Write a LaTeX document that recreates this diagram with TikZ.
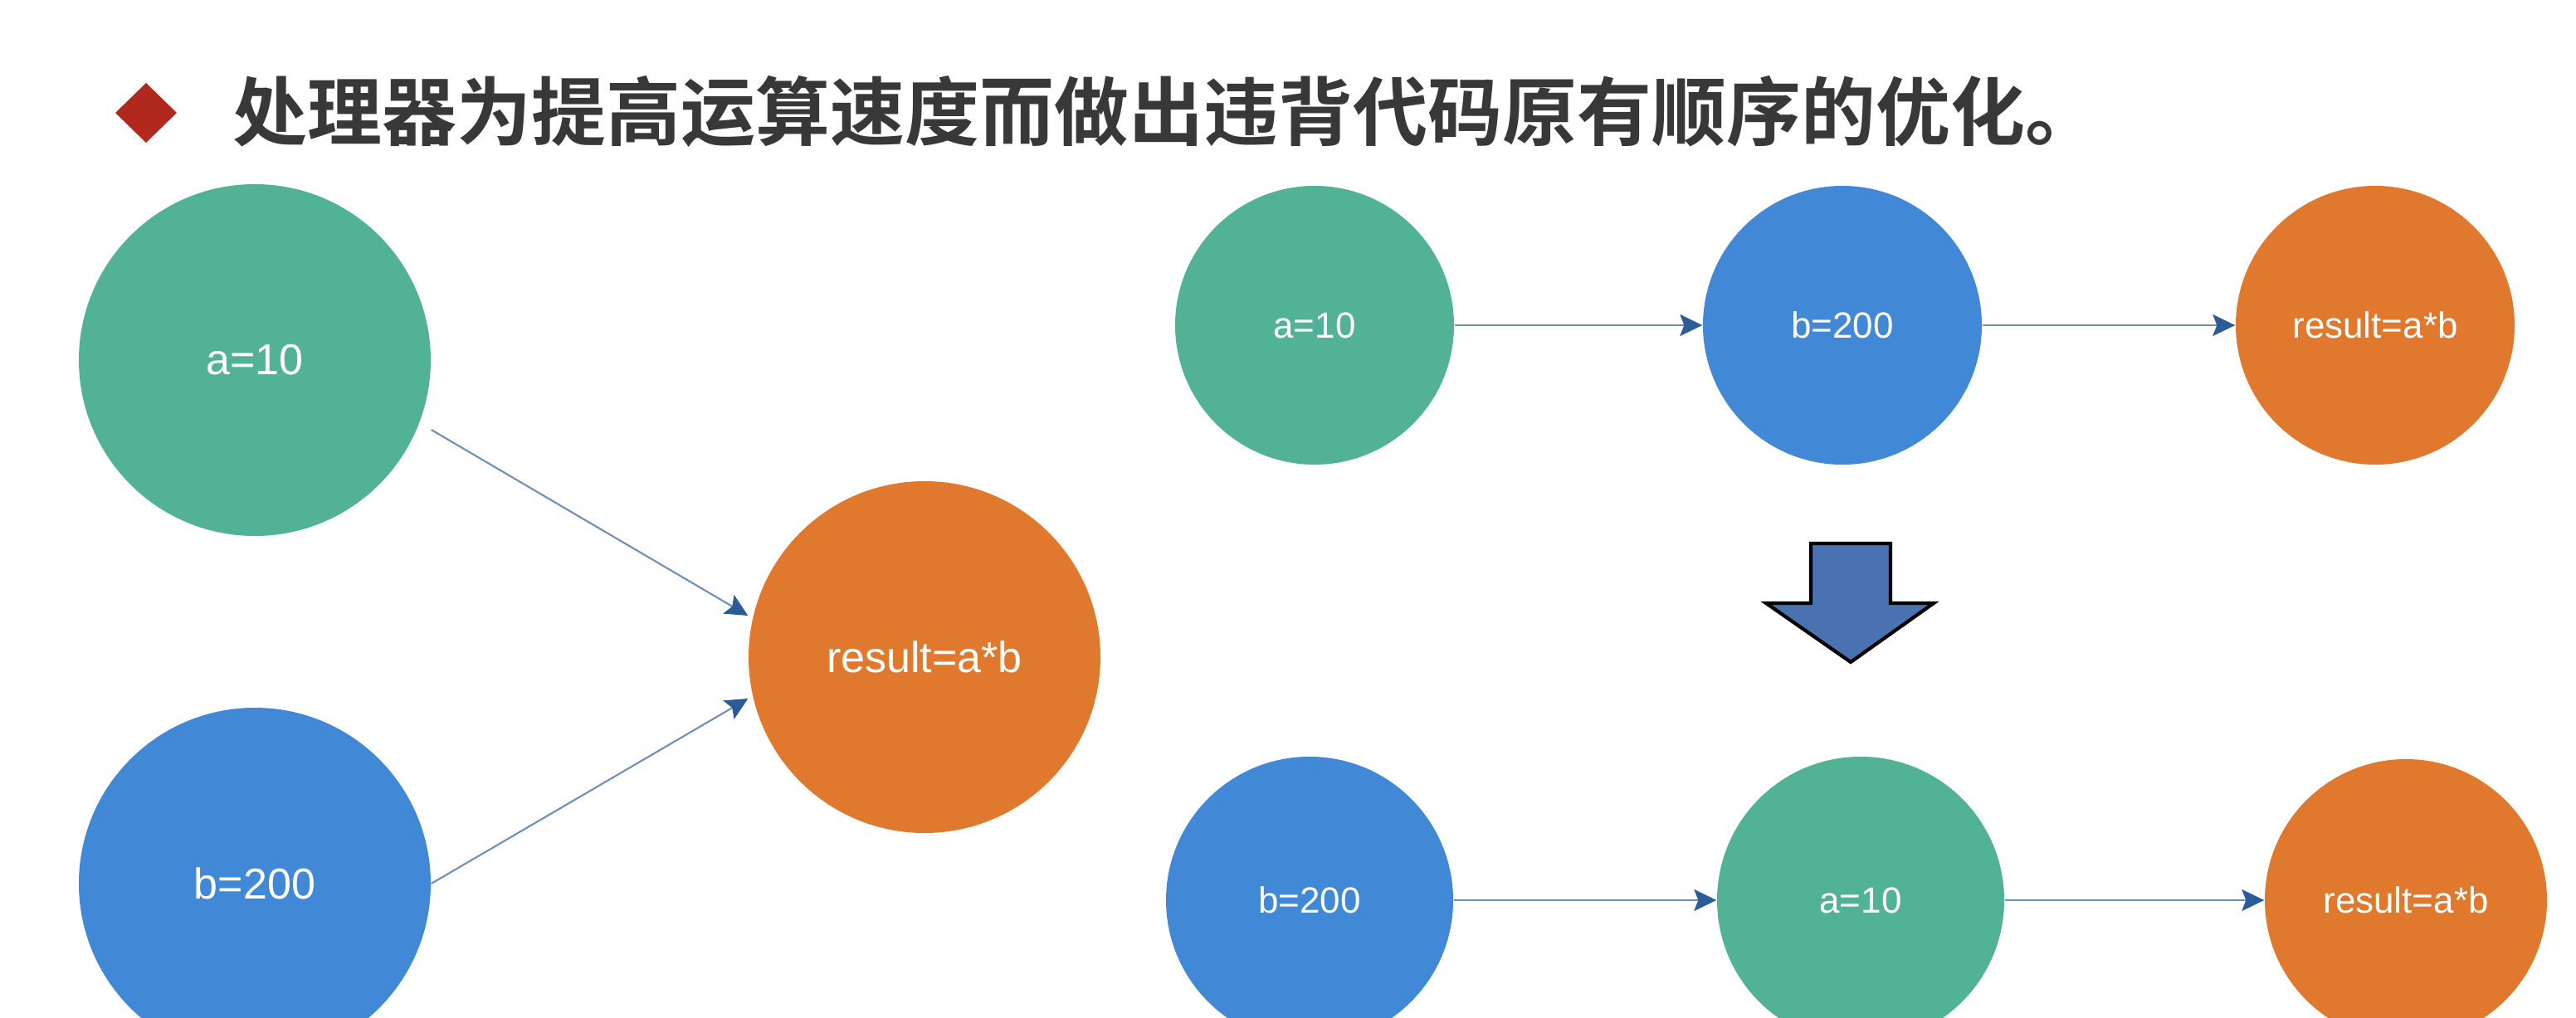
\documentclass[tikz,border=0pt]{standalone}
\usepackage{fontspec}
\setmainfont{Liberation Sans}
\newfontfamily\cjk{Noto Sans CJK SC}[BoldFont={Noto Sans CJK SC Bold}]
\usetikzlibrary{arrows.meta,calc}

\definecolor{ngreen}{HTML}{52B296}
\definecolor{nblue}{HTML}{4188D6}
\definecolor{norange}{HTML}{E0782D}
\definecolor{linkline}{HTML}{6F8FBA}
\definecolor{linktip}{HTML}{2B5C99}
\definecolor{titlegray}{HTML}{383838}
\definecolor{bulletred}{HTML}{B0281E}
\definecolor{bigarrow}{HTML}{4B72B0}

\tikzset{
  bigdot/.style={circle, minimum size=4.24cm, inner sep=0pt, text=white,
    font=\fontsize{14.8pt}{17pt}\selectfont},
  smalldot/.style={circle, minimum size=3.36cm, inner sep=0pt, text=white,
    font=\fontsize{12.5pt}{15pt}\selectfont},
  link/.style={draw=linkline, line width=0.6pt,
    -{Stealth[length=0.27cm, width=0.26cm, inset=0.05cm, color=linktip]}},
}

\begin{document}
\begin{tikzpicture}
\path[use as bounding box, fill=white] (0,0) rectangle (31.04,12.26);

% heading
\fill[bulletred] (1.39,10.90) -- (1.76,11.26) -- (2.13,10.90) -- (1.76,10.54) -- cycle;
\node[anchor=west, inner sep=0pt, text=titlegray,
  font=\cjk\bfseries\fontsize{25.6pt}{30pt}\selectfont] (title) at (2.80,10.92)
  {处理器为提高运算速度而做出违背代码原有顺序的优化。};

% original order
\node[bigdot, fill=ngreen]  (aL) at (3.07,7.92)  {a=10};
\node[bigdot, fill=nblue]   (bL) at (3.07,1.61)  {b=200};
\node[bigdot, fill=norange] (rL) at (11.14,4.34) {result=a*b};
\draw[link] ($(aL.east)+(0,-0.84)$) -- ($(rL.west)+(0,0.50)$);
\draw[link] (bL.east) -- ($(rL.west)+(0,-0.50)$);

% program order
\node[smalldot, fill=ngreen]  (a1) at (15.84,8.34) {a=10};
\node[smalldot, fill=nblue]   (b1) at (22.20,8.34) {b=200};
\node[smalldot, fill=norange] (r1) at (28.62,8.34) {result=a*b};
\draw[link] (a1) -- (b1);
\draw[link] (b1) -- (r1);

% reordering arrow
\draw[fill=bigarrow, draw=black, line width=1.2pt, line join=miter]
  (21.82,5.71) -- (22.78,5.71) -- (22.78,4.99) -- (23.30,4.99)
  -- (22.30,4.28) -- (21.28,4.99) -- (21.82,4.99) -- cycle;

% reordered execution
\node[smalldot, minimum size=3.46cm, fill=nblue]   (b2) at (15.78,1.41) {b=200};
\node[smalldot, minimum size=3.46cm, fill=ngreen]  (a2) at (22.42,1.41) {a=10};
\node[smalldot, minimum size=3.40cm, fill=norange] (r2) at (28.99,1.41) {result=a*b};
\draw[link] (b2) -- (a2);
\draw[link] (a2) -- (r2);
\end{tikzpicture}
\end{document}
